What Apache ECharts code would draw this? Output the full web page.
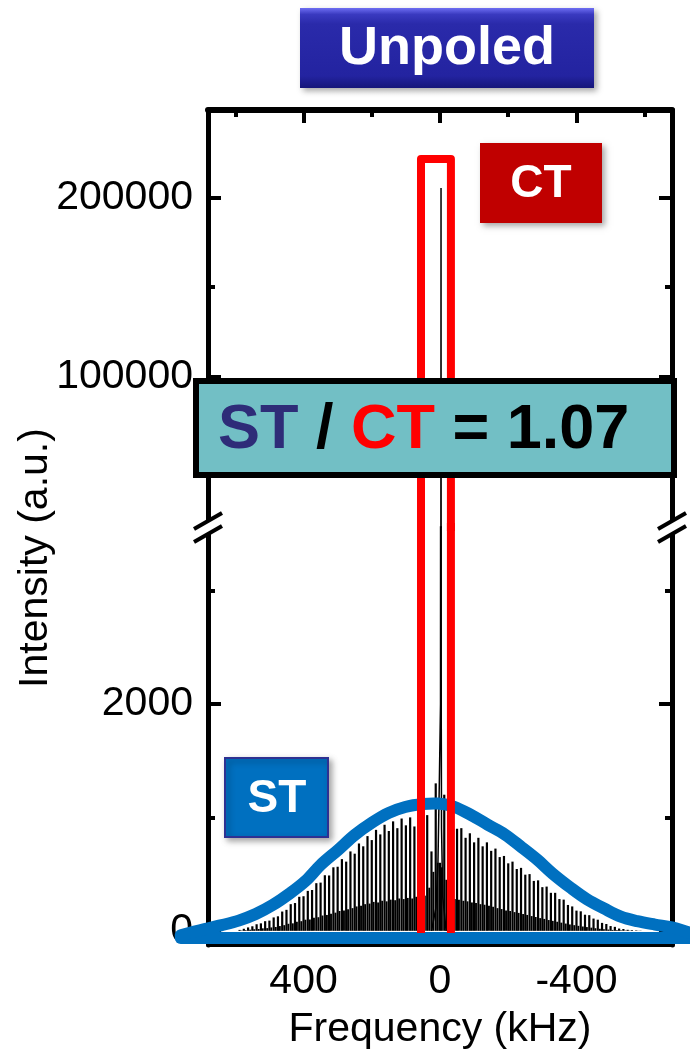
<!DOCTYPE html>
<html><head><meta charset="utf-8">
<script src="https://cdn.jsdelivr.net/npm/echarts@6/dist/echarts.min.js"></script>
<style>html,body{margin:0;padding:0;background:#fff}#c{width:690px;height:1056px}</style>
</head><body><div id="c"></div>
<script>
// ---------- data ----------
// spinning sidebands (tall lines), frequency in kHz
const sidebandFreq = [587.5, 575, 562.5, 550, 537.5, 525, 512.5, 500, 487.5, 475, 462.5, 450, 437.5, 425, 412.5, 400, 387.5, 375, 362.5, 350, 337.5, 325, 312.5, 300, 287.5, 275, 262.5, 250, 237.5, 225, 212.5, 200, 187.5, 175, 162.5, 150, 137.5, 125, 112.5, 100, 87.5, 75, 62.5, 50, 37.5, 25, 12.5, 0, -12.5, -25, -37.5, -50, -62.5, -75, -87.5, -100, -112.5, -125, -137.5, -150, -162.5, -175, -187.5, -200, -212.5, -225, -237.5, -250, -262.5, -275, -287.5, -300, -312.5, -325, -337.5, -350, -362.5, -375, -387.5, -400, -412.5, -425, -437.5, -450, -462.5, -475, -487.5, -500, -512.5, -525, -537.5, -550, -562.5, -575, -587.5];
const sidebandInt = [8, 18, 30, 40, 58, 66, 85, 90, 118, 128, 170, 185, 235, 245, 300, 305, 352, 360, 420, 425, 490, 488, 560, 565, 632, 610, 700, 680, 770, 745, 835, 800, 890, 850, 935, 880, 965, 905, 990, 930, 1000, 920, 1010, 1000, 1020, 700, 1300, 600, 1200, 980, 960, 900, 905, 820, 860, 780, 820, 745, 780, 705, 725, 650, 660, 595, 610, 545, 555, 495, 500, 440, 445, 385, 390, 335, 335, 280, 275, 228, 215, 178, 172, 142, 138, 108, 98, 70, 60, 42, 35, 20, 16, 9, 6, 4, 2];
// short lines between sidebands
const floorFreq = [581, 569, 556, 544, 531, 519, 506, 494, 481, 469, 456, 444, 431, 419, 406, 394, 381, 369, 356, 344, 331, 319, 306, 294, 281, 269, 256, 244, 231, 219, 206, 194, 181, 169, 156, 144, 131, 119, 106, 94, 81, 69, 56, 44, 31, 19, 6, -6, -19, -31, -44, -56, -69, -81, -94, -106, -119, -131, -144, -156, -169, -181, -194, -206, -219, -231, -244, -256, -269, -281, -294, -306, -319, -331, -344, -356, -369, -381, -394, -406, -419, -431, -444, -456, -469, -481, -494, -506, -519, -531, -544, -556, -569, -581];
const floorInt = [3, 6, 10, 14, 16, 22, 24, 30, 34, 42, 50, 62, 66, 80, 85, 98, 100, 115, 120, 135, 140, 150, 160, 175, 180, 190, 200, 215, 220, 235, 240, 255, 250, 265, 260, 275, 270, 285, 280, 290, 285, 300, 295, 310, 380, 520, 600, 560, 450, 360, 280, 275, 265, 260, 250, 245, 235, 230, 220, 212, 200, 192, 180, 175, 165, 158, 148, 140, 130, 122, 112, 105, 95, 88, 80, 72, 64, 56, 50, 44, 38, 33, 28, 23, 18, 14, 11, 8, 6, 4, 3, 2, 1, 1];
// central transition (CT) peak
const peakFreq = [25, 12, 6, 2, -1.5, -2.6, -3, -3.3, -3.6, -4.5, -8, -18];
const peakInt = [0, 200, 600, 1300, 2000, 12000, 205400, 12000, 2000, 900, 300, 0];
// Gaussian fit of satellite transitions (ST)
const fitFreq = [760, 690, 640, 590, 540, 490, 440, 394, 350, 298, 250, 199, 150, 102, 50, 6, -40, -93, -140, -190, -240, -286, -330, -385, -430, -482, -530, -578, -630, -680, -730, -760];
const fitInt = [-40, 15, 50, 90, 148, 228, 330, 440, 580, 715, 845, 955, 1040, 1092, 1118, 1122, 1095, 1018, 935, 850, 735, 625, 505, 375, 280, 195, 125, 85, 55, 30, -15, -40];
const fitBaseFreq = [760, -760];
const fitBaseInt = [-63, -63];
// red outline around the CT region
const ctBoxFreq = [55.7, 55.7, -32, -32];
const ctBoxInt = [-20, 221600, 221600, -20];
// ticks
const xMajorTicks = [400, 0, -400];
const xMinorTicks = [600, 200, -200, -600];
const yUpperMajor = [100000, 200000];
const yUpperMinor = [150000];
const yLowerMajor = [0, 2000];
const yLowerMinor = [1000, 3000];
const ratioText = '{s|ST} {k|/} {c|CT} {k|= 1.07}';

// ---------- chart ----------
const FONT = '"Liberation Sans", Arial, Helvetica, sans-serif';
const X_RANGE = [-680, 680];
const UP_RANGE = [16000, 249000];
const LO_RANGE = [-125, 3560];
const pairs = (a, b) => a.map((v, i) => [v, b[i]]);
const lbl = v => String(v);

function axis(opts) {
  const o = {
    type: 'value', gridIndex: opts.grid, position: opts.pos,
    min: opts.range[0], max: opts.range[1], inverse: !!opts.inverse,
    splitLine: { show: false }, minorTick: { show: false },
    axisLine: { show: !!opts.lineW, onZero: false, lineStyle: { color: '#000', width: opts.lineW || 1 } },
    axisTick: { show: true, inside: true, length: opts.tickLen, customValues: opts.ticks,
      lineStyle: { color: '#000', width: 4 } },
    axisLabel: opts.labels ? { show: true, customValues: opts.ticks, formatter: lbl, margin: opts.margin || 15,
      fontFamily: FONT, fontSize: 41, color: '#000' } : { show: false },
    axisPointer: { show: false }
  };
  if (opts.name) {
    o.name = opts.name; o.nameLocation = 'middle'; o.nameGap = opts.nameGap;
    o.nameTextStyle = { fontFamily: FONT, fontSize: 41, color: '#000' };
  }
  return o;
}

const xAxis = [
  axis({ grid: 0, pos: 'top', range: X_RANGE, inverse: true, lineW: 6, tickLen: 13, ticks: xMajorTicks }),
  axis({ grid: 0, pos: 'top', range: X_RANGE, inverse: true, tickLen: 7, ticks: xMinorTicks }),
  axis({ grid: 1, pos: 'bottom', range: X_RANGE, inverse: true, lineW: 3, tickLen: 13, ticks: xMajorTicks,
    labels: true, margin: 16, name: 'Frequency (kHz)', nameGap: 64 }),
  axis({ grid: 1, pos: 'bottom', range: X_RANGE, inverse: true, tickLen: 7, ticks: xMinorTicks })
];
const yAxis = [
  axis({ grid: 0, pos: 'left', range: UP_RANGE, lineW: 5, tickLen: 13, ticks: yUpperMajor, labels: true }),
  axis({ grid: 0, pos: 'right', range: UP_RANGE, lineW: 5, tickLen: 13, ticks: yUpperMajor }),
  axis({ grid: 0, pos: 'left', range: UP_RANGE, tickLen: 7, ticks: yUpperMinor }),
  axis({ grid: 0, pos: 'right', range: UP_RANGE, tickLen: 7, ticks: yUpperMinor }),
  axis({ grid: 1, pos: 'left', range: LO_RANGE, lineW: 5, tickLen: 13, ticks: yLowerMajor, labels: true }),
  axis({ grid: 1, pos: 'right', range: LO_RANGE, lineW: 5, tickLen: 13, ticks: yLowerMajor }),
  axis({ grid: 1, pos: 'left', range: LO_RANGE, tickLen: 7, ticks: yLowerMinor }),
  axis({ grid: 1, pos: 'right', range: LO_RANGE, tickLen: 7, ticks: yLowerMinor })
];

// blue fit lines extend past the frame, so draw them unclipped with a custom series
function blueLine(freqs, ints, smooth) {
  return {
    type: 'custom', xAxisIndex: 2, yAxisIndex: 4, clip: false, silent: true, z: 4,
    data: pairs(freqs, ints),
    encode: { x: 0, y: 1 },
    renderItem: function (params, api) {
      if (params.dataIndex !== 0) return null;
      const pts = freqs.map((f, i) => api.coord([f, ints[i]]));
      return { type: 'polyline', shape: { points: pts, smooth: smooth },
        style: { stroke: '#0070C0', lineWidth: 12, fill: null, lineCap: 'round', lineJoin: 'round' } };
    }
  };
}

const series = [
  // lower panel
  { type: 'bar', xAxisIndex: 2, yAxisIndex: 4, data: pairs(floorFreq, floorInt), barWidth: 1.9, barGap: '-100%',
    itemStyle: { color: '#000' }, silent: true, z: 2 },
  { type: 'bar', xAxisIndex: 2, yAxisIndex: 4, data: pairs(sidebandFreq, sidebandInt), barWidth: 2.2, barGap: '-100%',
    itemStyle: { color: '#000' }, silent: true, z: 2 },
  { type: 'line', xAxisIndex: 2, yAxisIndex: 4, data: pairs(peakFreq, peakInt), showSymbol: false,
    lineStyle: { color: '#000', width: 1.5 }, z: 3 },
  blueLine(fitBaseFreq, fitBaseInt, 0),
  blueLine(fitFreq, fitInt, 0.35),
  { type: 'line', xAxisIndex: 2, yAxisIndex: 4, data: pairs(ctBoxFreq, ctBoxInt), showSymbol: false,
    lineStyle: { color: '#FF0000', width: 8, join: 'round' }, z: 5 },
  // upper panel
  { type: 'line', xAxisIndex: 0, yAxisIndex: 0, data: pairs(peakFreq, peakInt), showSymbol: false,
    lineStyle: { color: '#000', width: 1.5 }, z: 3 },
  { type: 'line', xAxisIndex: 0, yAxisIndex: 0, data: pairs(ctBoxFreq, ctBoxInt), showSymbol: false,
    lineStyle: { color: '#FF0000', width: 8, join: 'round' }, z: 5 }
];

const shadow = { shadowBlur: 6, shadowOffsetX: 3, shadowOffsetY: 3, shadowColor: 'rgba(0,0,0,0.35)' };
const graphic = [
  { type: 'text', x: 36, y: 558, rotation: Math.PI / 2, z: 100,
    style: { text: 'Intensity (a.u.)', font: '41px ' + FONT, fill: '#000', align: 'center', verticalAlign: 'middle' } },
  // axis break marks
  { type: 'polygon', z: 100, shape: { points: [[194, 529], [222, 513], [222, 526], [194, 542]] }, style: { fill: '#fff' } },
  { type: 'line', z: 101, shape: { x1: 194, y1: 529, x2: 222, y2: 513 }, style: { stroke: '#000', lineWidth: 4 } },
  { type: 'line', z: 101, shape: { x1: 194, y1: 542, x2: 222, y2: 526 }, style: { stroke: '#000', lineWidth: 4 } },
  { type: 'polygon', z: 100, shape: { points: [[658, 529], [686, 513], [686, 526], [658, 542]] }, style: { fill: '#fff' } },
  { type: 'line', z: 101, shape: { x1: 658, y1: 529, x2: 686, y2: 513 }, style: { stroke: '#000', lineWidth: 4 } },
  { type: 'line', z: 101, shape: { x1: 658, y1: 542, x2: 686, y2: 526 }, style: { stroke: '#000', lineWidth: 4 } },
  // Unpoled title box
  { type: 'rect', z: 110, shape: { x: 300, y: 8, width: 294, height: 80 },
    style: Object.assign({ fill: { type: 'linear', x: 0, y: 0, x2: 0, y2: 1, colorStops: [
      { offset: 0, color: '#6E6EF2' }, { offset: 0.08, color: '#3A3AC0' }, { offset: 0.2, color: '#2A2AAA' },
      { offset: 0.85, color: '#2323A0' }, { offset: 1, color: '#16167A' }] } }, shadow) },
  { type: 'text', z: 111, x: 447, y: 49,
    style: { text: 'Unpoled', font: 'bold 54px ' + FONT, fill: '#fff', align: 'center', verticalAlign: 'middle' } },
  // CT label
  { type: 'rect', z: 110, shape: { x: 480, y: 143, width: 122, height: 80 }, style: Object.assign({ fill: '#C00000' }, shadow) },
  { type: 'text', z: 111, x: 541, y: 184,
    style: { text: 'CT', font: 'bold 46px ' + FONT, fill: '#fff', align: 'center', verticalAlign: 'middle' } },
  // ST label
  { type: 'rect', z: 110, shape: { x: 225, y: 758, width: 103, height: 79 },
    style: Object.assign({ fill: '#0070C0', stroke: '#2E3192', lineWidth: 2 }, shadow) },
  { type: 'text', z: 111, x: 277, y: 799,
    style: { text: 'ST', font: 'bold 46px ' + FONT, fill: '#fff', align: 'center', verticalAlign: 'middle' } },
  // ratio box
  { type: 'rect', z: 110, shape: { x: 196, y: 381, width: 478, height: 94 },
    style: { fill: '#72BFC5', stroke: '#000', lineWidth: 6 } },
  { type: 'text', z: 111, x: 218, y: 431,
    style: { text: ratioText, font: 'bold 63px ' + FONT, fill: '#000', align: 'left', verticalAlign: 'middle',
      rich: {
        s: { fill: '#2E2C78', font: 'bold 63px ' + FONT },
        c: { fill: '#FF0000', font: 'bold 63px ' + FONT },
        k: { fill: '#000', font: 'bold 63px ' + FONT }
      } } }
];

const chart = echarts.init(document.getElementById('c'), null, { renderer: 'canvas' });
chart.setOption({
  animation: false,
  backgroundColor: '#fff',
  grid: [
    { left: 208, right: 18, top: 110, height: 417, containLabel: false, outerBoundsMode: 'none' },
    { left: 208, right: 18, top: 527, height: 418, containLabel: false, outerBoundsMode: 'none' }
  ],
  xAxis: xAxis,
  yAxis: yAxis,
  series: series,
  graphic: graphic
});
</script>
</body></html>
